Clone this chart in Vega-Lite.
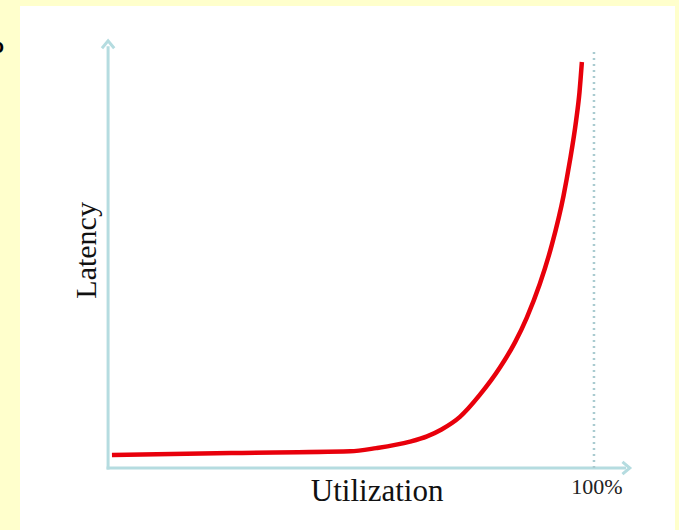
{
  "$schema": "https://vega.github.io/schema/vega-lite/v6.json",
  "autosize": {"type": "none"},
  "width": 655,
  "height": 524,
  "padding": {"left": 20, "top": 6, "right": 4, "bottom": 0},
  "background": "#FFFFCC",
  "config": {"view": {"fill": "white", "stroke": null}},
  "datasets": {
    "curve": [
      {"utilization": 0.4, "latency": 3.2},
      {"utilization": 25, "latency": 3.7},
      {"utilization": 49.6, "latency": 4.1},
      {"utilization": 55, "latency": 4.9},
      {"utilization": 62, "latency": 6.5},
      {"utilization": 65.5, "latency": 7.8},
      {"utilization": 68.5, "latency": 9.5},
      {"utilization": 72.3, "latency": 12.6},
      {"utilization": 76.4, "latency": 18.0},
      {"utilization": 80.6, "latency": 24.8},
      {"utilization": 83.7, "latency": 31.0},
      {"utilization": 86.1, "latency": 37.0},
      {"utilization": 88.8, "latency": 45.3},
      {"utilization": 91.3, "latency": 55.0},
      {"utilization": 93.7, "latency": 67.0},
      {"utilization": 95.0, "latency": 75.5},
      {"utilization": 96.3, "latency": 85.5},
      {"utilization": 97.0, "latency": 92.5},
      {"utilization": 97.5, "latency": 100}
    ],
    "axes": [
      {"x": -0.4, "y": 0, "x2": -0.4, "y2": 103.5},
      {"x": -0.4, "y": 0, "x2": 106.3, "y2": 0}
    ],
    "limit": [{"x": 100, "y": 0, "y2": 102.5}]
  },
  "layer": [
    {
      "data": {"name": "axes"},
      "mark": {"type": "rule", "color": "#B5DCE0", "strokeWidth": 3, "strokeCap": "square"},
      "encoding": {
        "x": {"field": "x", "type": "quantitative", "scale": {"domain": [-18.6, 116.74], "nice": false, "zero": false}, "axis": null},
        "y": {"field": "y", "type": "quantitative", "scale": {"domain": [-15.27, 113.79], "nice": false, "zero": false}, "axis": null},
        "x2": {"field": "x2"},
        "y2": {"field": "y2"}
      }
    },
    {
      "data": {"name": "limit"},
      "mark": {"type": "rule", "color": "#A9CBD0", "strokeWidth": 2.5, "strokeDash": [2, 4]},
      "encoding": {
        "x": {"field": "x", "type": "quantitative"},
        "y": {"field": "y", "type": "quantitative"},
        "y2": {"field": "y2"}
      }
    },
    {
      "data": {"values": [{"x": -0.4, "y": 105.2}]},
      "mark": {"type": "point", "shape": "M-1,1.2L0,0L1,1.2", "filled": false, "stroke": "#B5DCE0", "strokeWidth": 3, "size": 150, "opacity": 1},
      "encoding": {
        "x": {"field": "x", "type": "quantitative"},
        "y": {"field": "y", "type": "quantitative"}
      }
    },
    {
      "data": {"values": [{"x": 107.4, "y": 0}]},
      "mark": {"type": "point", "shape": "M-1.2,-1L0,0L-1.2,1", "filled": false, "stroke": "#B5DCE0", "strokeWidth": 3, "size": 150, "opacity": 1},
      "encoding": {
        "x": {"field": "x", "type": "quantitative"},
        "y": {"field": "y", "type": "quantitative"}
      }
    },
    {
      "data": {"name": "curve"},
      "mark": {"type": "line", "color": "#E8000B", "strokeWidth": 4.5, "interpolate": "monotone", "strokeCap": "butt"},
      "encoding": {
        "x": {"field": "utilization", "type": "quantitative"},
        "y": {"field": "latency", "type": "quantitative"}
      }
    },
    {
      "data": {"values": [{"x": -4.75, "y": 53.6, "label": "Latency"}]},
      "mark": {"type": "text", "font": "Liberation Serif", "fontSize": 30, "angle": 270, "align": "center", "baseline": "middle", "color": "#111111"},
      "encoding": {
        "x": {"field": "x", "type": "quantitative"},
        "y": {"field": "y", "type": "quantitative"},
        "text": {"field": "label"}
      }
    },
    {
      "data": {"values": [{"x": 55.2, "y": -5.9, "label": "Utilization"}]},
      "mark": {"type": "text", "font": "Liberation Serif", "fontSize": 31, "align": "center", "baseline": "middle", "color": "#111111"},
      "encoding": {
        "x": {"field": "x", "type": "quantitative"},
        "y": {"field": "y", "type": "quantitative"},
        "text": {"field": "label"}
      }
    },
    {
      "data": {"values": [{"x": 100.6, "y": -4.7, "label": "100%"}]},
      "mark": {"type": "text", "font": "Liberation Serif", "fontSize": 22, "align": "center", "baseline": "middle", "color": "#222222"},
      "encoding": {
        "x": {"field": "x", "type": "quantitative"},
        "y": {"field": "y", "type": "quantitative"},
        "text": {"field": "label"}
      }
    },
    {
      "data": {"values": [{"x": -21.9, "y": 103.7, "label": "o"}]},
      "mark": {"type": "text", "font": "Liberation Sans", "fontWeight": "bold", "fontSize": 20, "align": "right", "baseline": "middle", "color": "#000000", "clip": false},
      "encoding": {
        "x": {"field": "x", "type": "quantitative"},
        "y": {"field": "y", "type": "quantitative"},
        "text": {"field": "label"}
      }
    }
  ]
}
